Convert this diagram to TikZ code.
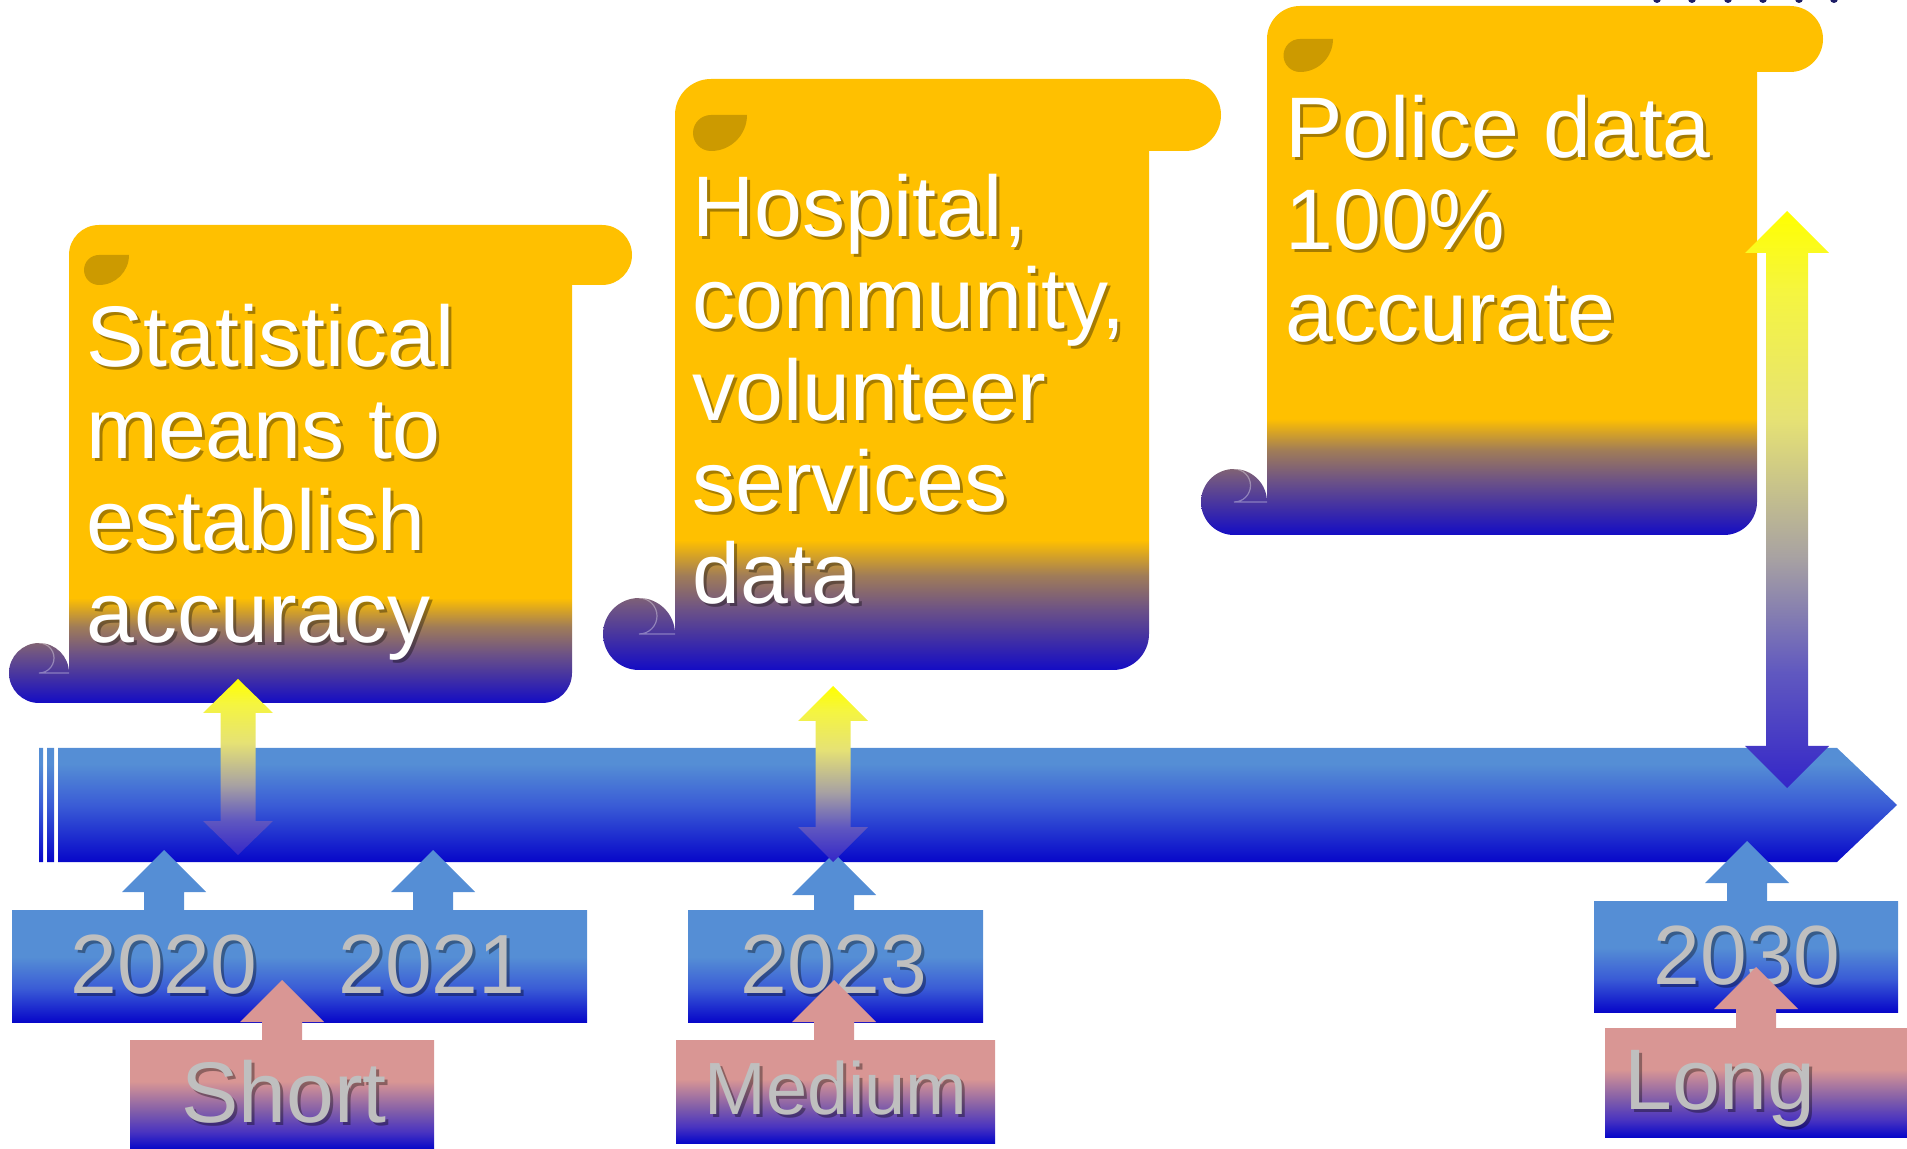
\documentclass[tikz,border=0pt]{standalone}
\usepackage{fontspec}
\setmainfont{Liberation Sans}
\definecolor{gold}{HTML}{FFC000}
\definecolor{leafc}{HTML}{CC9A00}
\definecolor{scrB}{HTML}{140CC4}
\definecolor{scrM}{HTML}{6A5088}
\definecolor{scrM2}{HTML}{A07C58}
\definecolor{barL}{HTML}{558ED5}
\definecolor{barM}{HTML}{3A5CD6}
\definecolor{barB}{HTML}{0707C9}
\definecolor{pinkc}{HTML}{D99694}
\definecolor{termM}{HTML}{7F5CAA}
\definecolor{termM2}{HTML}{4A34C0}
\definecolor{yrtxt}{HTML}{BFBFBF}
\definecolor{dotc}{HTML}{1E1E66}
\definecolor{arY}{HTML}{FFFF00}
\definecolor{arY2}{HTML}{F5F540}
\definecolor{arY3}{HTML}{E6E274}
\definecolor{arG}{HTML}{A8A2A2}
\definecolor{arP}{HTML}{6058C0}
\definecolor{arB}{HTML}{3426C8}
\pgfdeclareverticalshading{scrollsh}{100bp}{color(0bp)=(scrB); color(25bp)=(scrB); color(30bp)=(scrM); color(33bp)=(scrM2); color(36bp)=(gold); color(100bp)=(gold)}
\pgfdeclareverticalshading{barsh}{100bp}{color(0bp)=(barB); color(25bp)=(barB); color(50bp)=(barM); color(68bp)=(barL); color(100bp)=(barL)}
\pgfdeclareverticalshading{yrsh}{100bp}{color(0bp)=(barB); color(25bp)=(barB); color(40bp)=(barM); color(54bp)=(barL); color(100bp)=(barL)}
\pgfdeclareverticalshading{termsh}{100bp}{color(0bp)=(barB); color(25bp)=(barB); color(33bp)=(termM2); color(42bp)=(termM); color(56bp)=(pinkc); color(100bp)=(pinkc)}
\pgfdeclareverticalshading{arrsh}{100bp}{color(0bp)=(arB); color(25bp)=(arB); color(35bp)=(arP); color(45bp)=(arG); color(57bp)=(arY3); color(68bp)=(arY2); color(75bp)=(arY); color(100bp)=(arY)}
\tikzset{
  scrollp/.style n args={5}{insert path={({#1},{-(#3+#5)}) arc[start angle=180,end angle=90,radius=#5] -- ({#2+#5},{-#3}) arc[start angle=90,end angle=-90,radius=#5] -- ({#2},{-(#3+2*#5)}) -- ({#2},{-(#4-#5)}) arc[start angle=0,end angle=-90,radius=#5] -- ({#1-#5},{-#4}) arc[start angle=270,end angle=0,radius=#5] -- cycle}},
  curlp/.style n args={3}{insert path={({#1-#3},{-(#2-2*#3)}) arc[start angle=90,end angle=-90,radius=#3/2] -- ({#1},{-(#2-#3)})}},
  curlline/.style={draw=white, draw opacity=0.35, line width=0.6pt},
  leafp/.style n args={3}{insert path={({#1+#3},{-(#2+#3)}) arc[start angle=90,end angle=270,radius=#3/2] arc[start angle=-90,end angle=0,radius=#3] -- cycle}},
  dblarr/.style n args={6}{insert path={({#1},{-#2}) -- ({#1+#5},{-(#2+#4)}) -- ({#1+#6},{-(#2+#4)}) -- ({#1+#6},{-(#3-#4)}) -- ({#1+#5},{-(#3-#4)}) -- ({#1},{-#3}) -- ({#1-#5},{-(#3-#4)}) -- ({#1-#6},{-(#3-#4)}) -- ({#1-#6},{-(#2+#4)}) -- ({#1-#5},{-(#2+#4)}) -- cycle}},
  uparr/.style n args={3}{insert path={({#1},{-#2}) -- ({#1+42},{-(#2+42)}) -- ({#1+20},{-(#2+42)}) -- ({#1+20},{-(#3+2)}) -- ({#1-20},{-(#3+2)}) -- ({#1-20},{-(#2+42)}) -- ({#1-42},{-(#2+42)}) -- cycle}},
  stxt/.style={anchor=base west, inner sep=0pt, font=\fontsize{43}{46}\selectfont, text=white},
  ytxt/.style={anchor=base, inner sep=0pt, font=\fontsize{42}{46}\selectfont, text=yrtxt},
  ttxt/.style={anchor=base, inner sep=0pt, font=\fontsize{43}{46}\selectfont, text=yrtxt},
  shd/.style={text=black, text opacity=0.35, xshift=1.5pt, yshift=-1.5pt}
}
\newcommand\mytxt[4]{\node[#2,shd] (#1sh) at #3 {#4}; \node[#2] (#1) at #3 {#4};}
\begin{document}
\begin{tikzpicture}[x=0.5pt,y=0.5pt]
\useasboundingbox (0,0) rectangle (1907,-1149);
\clip (0,0) rectangle (1907,-1149);
% cut-off dots at top
\foreach \xx in {1657,1692,1728,1763,1799,1834} \fill[dotc] (\xx,1) circle[radius=4];
% scrolls
\shade[shading=scrollsh, scrollp={69}{572}{225}{703}{30}];
\path[curlline, curlp={69}{703}{30}];
\fill[leafc, leafp={69}{225}{30}];
\shade[shading=scrollsh, scrollp={675}{1149}{79}{670}{36}];
\path[curlline, curlp={675}{670}{36}];
\fill[leafc, leafp={675}{79}{36}];
\shade[shading=scrollsh, scrollp={1267}{1757}{6}{535}{33}];
\path[curlline, curlp={1267}{535}{33}];
\fill[leafc, leafp={1267}{6}{33}];
% scroll texts
\mytxt{a1}{stxt}{(86,-367)}{Statistical}
\mytxt{a2}{stxt}{(86,-459)}{means to}
\mytxt{a3}{stxt}{(86,-551)}{establish}
\mytxt{a4}{stxt}{(86,-643)}{accuracy}
\mytxt{b1}{stxt}{(692,-237)}{Hospital,}
\mytxt{b2}{stxt}{(692,-329)}{community,}
\mytxt{b3}{stxt}{(692,-421)}{volunteer}
\mytxt{b4}{stxt}{(692,-512)}{services}
\mytxt{b5}{stxt}{(692,-604)}{data}
\mytxt{c1}{stxt}{(1285,-158)}{Police data}
\mytxt{c2}{stxt}{(1285,-250)}{100\%}
\mytxt{c3}{stxt}{(1285,-342)}{accurate}
% timeline bar
\shade[shading=barsh] (39,-748) rectangle (43,-862) (47,-748) rectangle (54,-862)
  (58,-748) -- (1837,-748) -- (1897,-805) -- (1837,-862) -- (58,-862) -- cycle;
% blue up arrows
\fill[barL, uparr={164}{850}{910}];
\fill[barL, uparr={433}{850}{910}];
\fill[barL, uparr={834}{853}{910}];
\fill[barL, uparr={1747}{841}{901}];
% double arrows
\shade[shading=arrsh, dblarr={238}{679}{855}{34}{35}{17.5}];
\shade[shading=arrsh, dblarr={833}{686}{862}{35}{35}{17.5}];
\shade[shading=arrsh, dblarr={1787}{211}{788}{42}{42}{21}];
% year boxes
\shade[shading=yrsh] (12,-910) rectangle (316,-1022);
\shade[shading=yrsh] (283,-910) rectangle (587,-1022);
\shade[shading=yrsh] (688,-910) rectangle (983,-1022);
\shade[shading=yrsh] (1594,-901) rectangle (1898,-1012);
\mytxt{y1}{ytxt}{(164,-993)}{2020}
\mytxt{y2}{ytxt}{(432,-993)}{2021}
\mytxt{y3}{ytxt}{(834,-993)}{2023}
\mytxt{y4}{ytxt}{(1747,-984)}{2030}
% pink arrows
\fill[pinkc, uparr={282}{980}{1040}];
\fill[pinkc, uparr={834}{980}{1040}];
\fill[pinkc, uparr={1756}{967}{1028}];
% term boxes
\shade[shading=termsh] (130,-1040) rectangle (434,-1149);
\shade[shading=termsh] (676,-1040) rectangle (995,-1143);
\shade[shading=termsh] (1605,-1028) rectangle (1907,-1137);
\mytxt{t1}{ttxt}{(284,-1122)}{Short}
\mytxt{t2}{ttxt}{(836,-1114)}{\fontsize{37}{40}\selectfont Medium}
\mytxt{t3}{ttxt}{(1720,-1109)}{Long}
\end{tikzpicture}
\end{document}
